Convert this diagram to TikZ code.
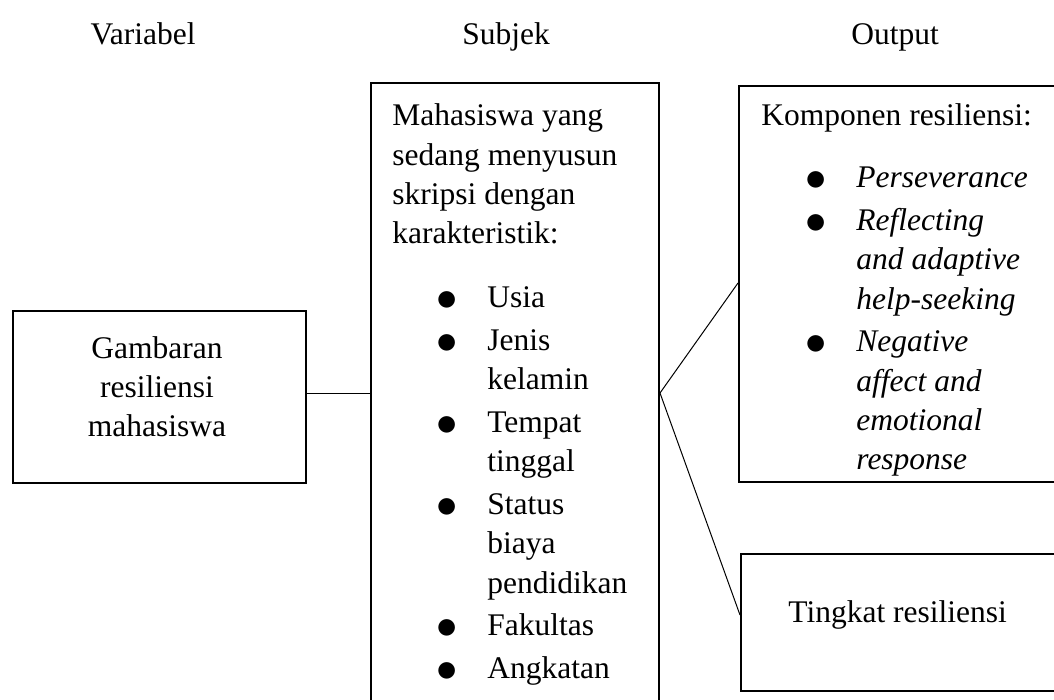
\RequirePackage{fix-cm}
\documentclass[tikz,border=0pt]{standalone}
\usepackage{fontspec}
\setmainfont{Liberation Serif}
\usepackage{graphicx}
\usetikzlibrary{positioning,calc}
% bullet and hanging indent for the list lines
\newcommand{\blt}{\hspace*{27.5pt}\makebox[0pt][c]{\raisebox{-1.4pt}{\scalebox{1.35}{$\bullet$}}}\hspace*{20pt}}
\newcommand{\hng}{\hspace*{47.5pt}}

\begin{document}
\begin{tikzpicture}[x=0.5pt,y=-0.5pt,
    font=\fontsize{15.75pt}{19.65pt}\selectfont,
    box/.style={draw, line width=1pt, inner sep=0pt},
    title/.style={anchor=base, inner sep=0pt},
    txt/.style={anchor=base west, inner sep=0pt},
    link/.style={line width=0.5pt}]
    \useasboundingbox (0,0) rectangle (1054,700);
    \clip (0,0) rectangle (1054,700);

    % column titles
    \node[title] (tvar) at (143,45) {Variabel};
    \node[title] (tsub) at (506,45) {Subjek};
    \node[title] (tout) at (895,45) {Output};

    % boxes
    \node[box, minimum width=146.5pt, minimum height=86pt] (var) at (159.5,397) {};
    \node[box, minimum width=144pt, minimum height=318.5pt] (sub) at (515,401.5) {};
    \node[box, minimum width=165pt, minimum height=198pt] (kom) at (904,284) {};
    \node[box, minimum width=164pt, minimum height=68.5pt] (ting) at (905,622.5) {};

    % texts
    \node[title] (vartxt) at (157,358) {\begin{tabular}[t]{@{}c@{}}Gambaran\\resiliensi\\mahasiswa\end{tabular}};
    \node[txt] (subtxt) at (392,126) {\parbox[t]{140pt}{Mahasiswa yang\\
        sedang menyusun\\
        skripsi dengan\\
        karakteristik:\\[12.3pt]
        \blt Usia\\[1.7pt]
        \blt Jenis\\
        \hng kelamin\\[1.7pt]
        \blt Tempat\\
        \hng tinggal\\[1.7pt]
        \blt Status\\
        \hng biaya\\
        \hng pendidikan\\[1.7pt]
        \blt Fakultas\\[1.7pt]
        \blt Angkatan}};
    \begin{scope}
        \clip (740,87) rectangle (1054,475);
        \node[txt] (komtxt) at (761,126) {\parbox[t]{150pt}{Komponen resiliensi:\\[11.35pt]
            \blt\textit{Perseverance}\\[1.7pt]
            \blt\textit{Reflecting}\\
            \hng\textit{and adaptive}\\
            \hng\textit{help-seeking}\\[1.7pt]
            \blt\textit{Negative}\\
            \hng\textit{affect and}\\
            \hng\textit{emotional}\\
            \hng\textit{response}}};
    \end{scope}
    \node[txt] (tingtxt) at (788,622) {Tingkat resiliensi};

    % connectors
    \coordinate (j) at (sub.east |- 0,393);
    \draw[link] (var.east |- j) -- (sub.west |- j);
    \draw[link] (j) -- (kom.west |- 0,283);
    \draw[link] (j) -- (ting.west |- 0,615);
\end{tikzpicture}
\end{document}
